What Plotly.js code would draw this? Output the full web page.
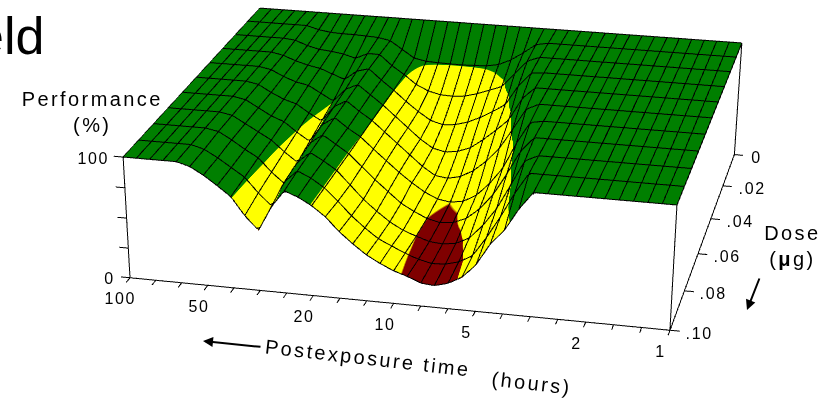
<!DOCTYPE html>
<html><head><meta charset="utf-8">
<script src="https://cdn.plot.ly/plotly-3.0.1.min.js"></script>
<style>html,body{margin:0;padding:0;width:820px;height:400px;overflow:hidden;background:#fff}
#wrap{position:absolute;left:0;top:0;width:820px;height:400px;overflow:hidden}
#plot{position:absolute;left:-108px;top:-501px;width:928px;height:2170px}</style>
</head><body><div id="wrap"><div id="plot"></div></div>
<script>
// log10(hours), 100 h to 1 h
const logHours=[2,1.95,1.9,1.85,1.8,1.75,1.7,1.65,1.6,1.55,1.5,1.45,1.4,1.35,1.3,1.25,1.2,1.15,1.1,1.05,1,0.95,0.9,0.85,0.8,0.75,0.7,0.65,0.6,0.55,0.5,0.45,0.4,0.35,0.3,0.25,0.2,0.15,0.1,0.05,0];
const doses=[0,0.01,0.02,0.03,0.04,0.05,0.06,0.07,0.08,0.09,0.10];
const dose00=[100,100,100,100,100,100,100,100,100,100,100,100,100,100,100,100,100,100,100,100,100,100,100,100,100,100,100,100,100,100,100,100,100,100,100,100,100,100,100,100,100];
const dose01=[100,100,100,100,100,100,97,95.5,95,95,94.5,94,92,85,78,76,75.5,75.2,75.2,75.5,76,78,83,90,98,100,100,100,100,100,100,100,100,100,100,100,100,100,100,100,100];
const dose02=[100,100,100,100,100,99,95,92.5,91.5,90,87,92,92,83,76,68,63,60.5,60,61,64,68,72,84,96,100,100,100,100,100,100,100,100,100,100,100,100,100,100,100,100];
const dose03=[100,100,100,100,100,98,94,91,89,85,81,89,92,83,75,66,58,51,48,49,52,57,63,70,87,99,100,100,100,100,100,100,100,100,100,100,100,100,100,100,100];
const dose04=[100,100,100,100,100,98,93,89,87,81,75,86,91,83,75,66,57,48,41,38.5,40,44,52,61,71,90,100,100,100,100,100,100,100,100,100,100,100,100,100,100,100];
const dose05=[100,100,100,100,100,98,92,87,84,77,71,84,90,82,75,66,57,48,39,32,30.5,33,39,48,60,77,95,100,100,100,100,100,100,100,100,100,100,100,100,100,100];
const dose06=[100,100,100,100,100,98,92,86,82,74,67,82,89,81,74.5,65,56,47,39,32,27,25.2,27,33,44,58,80,98,100,100,100,100,100,100,100,100,100,100,100,100,100];
const dose07=[100,100,100,100,100,98,92,86,80,71,63,80,88,81,74,64,54,45,36,30,25,22.5,23.5,28,37,50,68,88,100,100,100,100,100,100,100,100,100,100,100,100,100];
const dose08=[100,100,100,100,100,98,92,85,79,68,59,78,87,81,74,63,52,43,35,29,25,21.5,20.5,22,27.5,39,54,74,95,100,100,100,100,100,100,100,100,100,100,100,100];
const dose09=[100,100,100,100,100,97,91,84,77,65,55,76,86,81,74,64,53,44,36,31,26,22,19.5,20,23,29,45,63,83,100,100,100,100,100,100,100,100,100,100,100,100];
const dose10=[100,100,100,100,100,97,91,83.5,75.5,61,50,70,84,80,74,66,55,46,38,32,27,23.5,19,18,21,27,38,56,68,86,100,100,100,100,100,100,100,100,100,100,100];
const perfZ=[dose00,dose01,dose02,dose03,dose04,dose05,dose06,dose07,dose08,dose09,dose10];
// axis ticks
const timeTicks=[2,1.9,1.8,1.7,1.6,1.5,1.4,1.3,1.2,1.1,1,0.9,0.8,0.7,0.6,0.5,0.4,0.3,0.2,0.1,0];
const timeLabelVals=[2,1.7,1.3,1,0.7,0.3,0];
const timeLabels=['100','50','20','10','5','2','1'];
const doseTicks=[0,0.02,0.04,0.06,0.08,0.10];
const doseLabels=['0','.02','.04','.06','.08','.10'];
const perfTicks=[0,25,50,75,100];
const perfLabelVals=[0,100];

const W=928,H=2170,OX=108,OY=501;
const px=x=>(x+OX)/W, py=y=>1-(y+OY)/H;
const BLK={color:'#000',width:2};
function lineTrace(x,y,z,line){return {type:'scatter3d',mode:'lines',x,y,z,line:line||BLK,hoverinfo:'skip',showlegend:false};}
let tx=[],ty=[],tz=[];
timeTicks.forEach(t=>{tx.push(t,t,NaN);ty.push(0.1,0.1025,NaN);tz.push(0,0,NaN);});
doseTicks.forEach(d=>{tx.push(0,-0.035,NaN);ty.push(d,d,NaN);tz.push(0,0,NaN);});
perfTicks.forEach(p=>{tx.push(2,2.035,NaN);ty.push(0.1,0.1,NaN);tz.push(p,p,NaN);});
const RED={color:'#a02800',width:1.5};
const frontSeg=(a,b,l)=>lineTrace(logHours.slice(a,b),logHours.slice(a,b).map(()=>0.1),dose10.slice(a,b),l);

const traces=[
 {type:'surface',x:logHours,y:doses,z:perfZ,cmin:0,cmax:100,showscale:false,hoverinfo:'skip',
  colorscale:[[0,'#7f0000'],[0.25,'#7f0000'],[0.25,'#ffff00'],[0.75,'#ffff00'],[0.75,'#007f00'],[1,'#007f00']],
  lighting:{ambient:1,diffuse:0,specular:0,roughness:1,fresnel:0},
  contours:{x:{show:true,start:0,end:2,size:0.05,color:'#000',width:2,highlight:false},
            y:{show:true,start:0,end:0.1,size:0.01,color:'#000',width:2,highlight:false},
            z:{highlight:false}}},
 lineTrace([2,0,NaN,0,0,NaN,2,2,NaN,0,0,NaN,0,0],[0.1,0.1,NaN,0.1,0,NaN,0.1,0.1,NaN,0.1,0.1,NaN,0,0],[0,0,NaN,0,0,NaN,0,100,NaN,0,100,NaN,0,100]),
 lineTrace(tx,ty,tz),
 lineTrace(logHours,logHours.map(()=>0),dose00),
 lineTrace([2,2],[0,0.1],[100,100]),
 lineTrace([0,0],[0,0.1],[100,100]),
 frontSeg(0,8),frontSeg(7,11,RED),frontSeg(10,14),frontSeg(13,30,RED),frontSeg(29,41)
];
const sa=[];
const fnt={family:'Liberation Sans, Arial, sans-serif',size:16,color:'#000'};
timeLabelVals.forEach((v,i)=>sa.push({x:v,y:0.1,z:0,text:timeLabels[i],showarrow:false,font:fnt,xanchor:'center',yanchor:'middle',xshift:-9,yshift:-21}));
doseTicks.forEach((d,i)=>sa.push({x:0,y:d,z:0,text:doseLabels[i],showarrow:false,font:fnt,xanchor:'left',yanchor:'middle',xshift:16,yshift:-3}));
perfLabelVals.forEach(p=>sa.push({x:2,y:0.1,z:p,text:String(p),showarrow:false,font:fnt,xanchor:'right',yanchor:'middle',xshift:-14,yshift:-1}));

const ttl={family:'Liberation Sans, Arial, sans-serif',size:20,color:'#000'};
const ann=(x,y,text,extra)=>Object.assign({xref:'paper',yref:'paper',x:px(x),y:py(y),xanchor:'center',yanchor:'middle',text,showarrow:false,font:ttl},extra||{});
const arrow=(x0,y0,x1,y1)=>({xref:'paper',yref:'paper',axref:'pixel',ayref:'pixel',x:px(x1),y:py(y1),ax:x0-x1,ay:y0-y1,text:'',showarrow:true,arrowhead:2,arrowsize:1,arrowwidth:2,arrowcolor:'#000'});
const layout={width:W,height:H,margin:{l:0,r:0,t:0,b:0},paper_bgcolor:'#fff',showlegend:false,
 scene:{domain:{x:[0,1],y:[0,1]},aspectmode:'manual',aspectratio:{x:1.1,y:0.9647,z:0.282},
  xaxis:{visible:false,range:[-0.1,2.1]},yaxis:{visible:false,range:[-0.005,0.105]},zaxis:{visible:false,range:[-10,110]},
  camera:{projection:{type:'perspective'},eye:{x:-1.033,y:4.643,z:1.818},center:{x:0.0685,y:0.4655,z:-0.696},up:{x:0.118,y:-0.489,z:0.8643}},
  annotations:sa},
 annotations:[
  ann(46,36,'eld',{font:{family:'Liberation Sans, Arial, sans-serif',size:52,color:'#000'},xanchor:'right'}),
  ann(92,112,'Performance<br>(%)'),
  ann(792,246,'Dose<br>(<b>μ</b>g)'),
  ann(368,358,'Postexposure time',{textangle:6.5}),
  ann(531,383,'(hours)',{textangle:6.5}),
  arrow(262,347,203,341),arrow(760,277,747,310)
 ]};
Plotly.newPlot('plot',traces,layout,{displayModeBar:false,plotGlPixelRatio:1}).then(()=>{
 document.querySelectorAll('.annotation-text').forEach(t=>{
  const size=parseFloat(t.style.fontSize)||16;
  if(size<=16) t.style.letterSpacing='1.6px'; else if(size<=20) t.style.letterSpacing='2.4px';
 });
});
</script></body></html>
